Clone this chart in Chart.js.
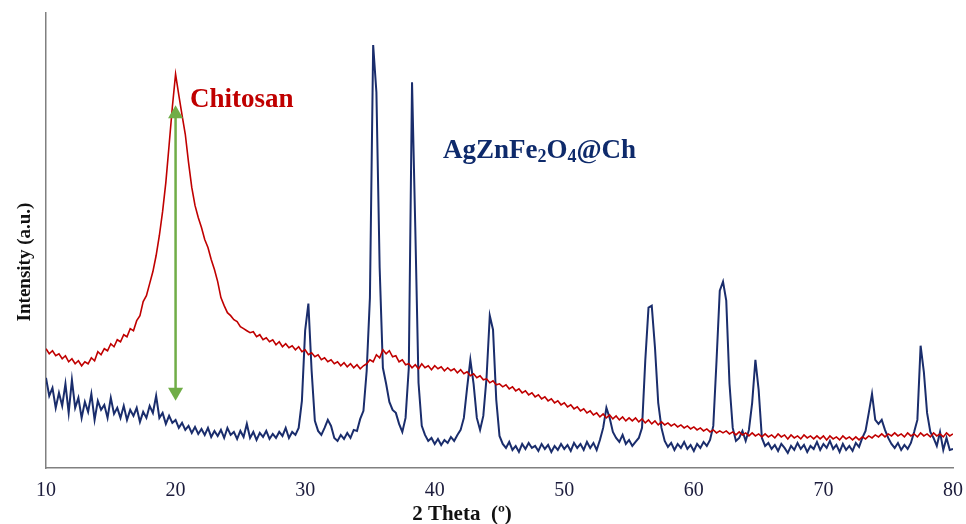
<!DOCTYPE html>
<html>
<head>
<meta charset="utf-8">
<script src="https://cdn.jsdelivr.net/npm/chart.js@4.4.1/dist/chart.umd.min.js"></script>
<style>
html,body{margin:0;padding:0;background:#ffffff;}
canvas{display:block;}
</style>
</head>
<body>
<canvas id="c" width="966" height="524"></canvas>
<script>
// 2θ positions (degrees)
const theta = [
10,10.25,10.5,10.75,11,11.25,11.5,11.75,12,12.25,12.5,12.75,13,13.25,13.5,13.75,14,14.25,14.5,14.75,
15,15.25,15.5,15.75,16,16.25,16.5,16.75,17,17.25,17.5,17.75,18,18.25,18.5,18.75,19,19.25,19.5,19.75,
20,20.25,20.5,20.75,21,21.25,21.5,21.75,22,22.25,22.5,22.75,23,23.25,23.5,23.75,24,24.25,24.5,24.75,
25,25.25,25.5,25.75,26,26.25,26.5,26.75,27,27.25,27.5,27.75,28,28.25,28.5,28.75,29,29.25,29.5,29.75,
30,30.25,30.5,30.75,31,31.25,31.5,31.75,32,32.25,32.5,32.75,33,33.25,33.5,33.75,34,34.25,34.5,34.75,
35,35.25,35.5,35.75,36,36.25,36.5,36.75,37,37.25,37.5,37.75,38,38.25,38.5,38.75,39,39.25,39.5,39.75,
40,40.25,40.5,40.75,41,41.25,41.5,41.75,42,42.25,42.5,42.75,43,43.25,43.5,43.75,44,44.25,44.5,44.75,
45,45.25,45.5,45.75,46,46.25,46.5,46.75,47,47.25,47.5,47.75,48,48.25,48.5,48.75,49,49.25,49.5,49.75,
50,50.25,50.5,50.75,51,51.25,51.5,51.75,52,52.25,52.5,52.75,53,53.25,53.5,53.75,54,54.25,54.5,54.75,
55,55.25,55.5,55.75,56,56.25,56.5,56.75,57,57.25,57.5,57.75,58,58.25,58.5,58.75,59,59.25,59.5,59.75,
60,60.25,60.5,60.75,61,61.25,61.5,61.75,62,62.25,62.5,62.75,63,63.25,63.5,63.75,64,64.25,64.5,64.75,
65,65.25,65.5,65.75,66,66.25,66.5,66.75,67,67.25,67.5,67.75,68,68.25,68.5,68.75,69,69.25,69.5,69.75,
70,70.25,70.5,70.75,71,71.25,71.5,71.75,72,72.25,72.5,72.75,73,73.25,73.5,73.75,74,74.25,74.5,74.75,
75,75.25,75.5,75.75,76,76.25,76.5,76.75,77,77.25,77.5,77.75,78,78.25,78.5,78.75,79,79.25,79.5,79.75,
80
];

// AgZnFe2O4@Ch intensity (a.u.)
const composite = [
90,72,80,60,75,62,84,55,88,60,70,50,66,56,74,48,67,58,63,50,
70,54,60,50,62,48,58,52,60,46,56,50,62,55,72,50,55,44,52,45,
48,40,45,38,42,35,41,34,39,33,40,31,37,32,38,30,40,33,36,29,
37,31,44,30,36,28,35,31,37,29,34,30,36,32,40,30,36,33,40,67,
137,164,97,47,37,33,40,48,42,30,27,33,29,35,30,38,37,49,57,97,
170,422,375,200,100,84,66,58,55,44,36,50,100,385,240,85,42,33,27,30,
24,29,23,28,25,31,27,33,38,50,80,108,84,50,38,52,90,152,138,68,
32,24,20,26,18,22,16,24,19,25,20,22,17,24,19,23,16,22,18,24,
19,23,17,25,20,24,18,26,20,25,18,28,40,60,50,36,30,26,33,24,
28,22,26,30,40,107,160,162,120,65,40,27,21,25,18,24,20,26,19,23,
17,24,20,26,22,28,42,107,177,186,167,84,40,27,30,37,27,38,65,108,
78,30,22,25,19,23,17,24,20,15,22,18,25,19,23,16,22,19,26,18,
24,20,27,19,23,16,24,18,22,17,25,21,30,37,55,74,48,44,48,38,
30,24,20,25,18,23,19,25,36,48,122,96,55,36,30,22,36,18,30,18,
19
];

// Chitosan intensity (a.u.)
const chitosan = [
119,114,117,112,114,109,112,106,109,104,107,102,106,104,110,107,116,113,119,117,
124,121,128,126,133,131,139,137,147,152,166,172,184,196,212,232,256,285,322,360,
393,372,352,333,305,280,262,250,240,228,220,208,198,186,170,162,155,152,148,146,
141,139,137,135,136,131,133,128,130,126,128,123,126,121,124,120,122,118,121,116,
118,113,115,111,113,108,110,106,108,104,106,102,105,101,104,100,103,99,102,104,
108,106,113,110,118,114,117,111,112,106,108,103,104,100,103,99,104,100,102,98,
102,99,101,97,100,97,99,95,98,94,96,92,94,90,92,88,89,85,87,83,
84,81,83,79,81,77,79,75,77,73,75,71,73,69,71,67,69,65,67,63,
65,61,63,59,61,57,59,55,57,53,55,51,54,50,53,49,52,48,51,47,
50,47,50,46,49,45,48,44,47,43,46,43,45,42,44,41,43,40,42,39,
41,38,40,37,39,36,38,35,37,35,37,34,36,33,36,33,35,32,35,32,
34,31,34,31,33,30,34,31,33,29,33,30,32,29,33,30,32,29,32,29,
32,28,32,29,31,28,32,29,31,28,31,28,31,29,32,30,33,31,34,31,
34,32,35,32,34,31,35,32,34,31,35,32,34,31,35,32,34,31,35,32,
34
];

const xTicks = [10,20,30,40,50,60,70,80];

const toPoints = (xs, ys) => xs.map((x, i) => ({x: x, y: ys[i]}));

const serifFont = '"Liberation Serif", "Times New Roman", serif';

const annotations = {
  id: 'annotations',
  afterDatasetsDraw(chart) {
    const ctx = chart.ctx;
    const xs = chart.scales.x, ys = chart.scales.y;
    // green double-headed arrow at 2θ = 20
    const ax = xs.getPixelForValue(20);
    const yTop = ys.getPixelForValue(362);
    const yBot = ys.getPixelForValue(67);
    const head = 13, hw = 7.5;
    ctx.save();
    ctx.strokeStyle = '#70ad47';
    ctx.fillStyle = '#70ad47';
    ctx.lineWidth = 2.5;
    ctx.beginPath();
    ctx.moveTo(ax, yTop + head - 1);
    ctx.lineTo(ax, yBot - head + 1);
    ctx.stroke();
    ctx.beginPath();
    ctx.moveTo(ax, yTop);
    ctx.lineTo(ax - hw, yTop + head);
    ctx.lineTo(ax + hw, yTop + head);
    ctx.closePath();
    ctx.fill();
    ctx.beginPath();
    ctx.moveTo(ax, yBot);
    ctx.lineTo(ax - hw, yBot - head);
    ctx.lineTo(ax + hw, yBot - head);
    ctx.closePath();
    ctx.fill();

    // Chitosan label
    ctx.textBaseline = 'alphabetic';
    ctx.textAlign = 'left';
    ctx.fillStyle = '#c00000';
    ctx.font = 'bold 27px ' + serifFont;
    ctx.fillText('Chitosan', 190, 107);

    // AgZnFe2O4@Ch label with subscripts
    const parts = [['AgZnFe', false], ['2', true], ['O', false], ['4', true], ['@Ch', false]];
    let px = 443;
    const base = 158;
    ctx.fillStyle = '#0e2a6b';
    parts.forEach(([t, sub]) => {
      ctx.font = sub ? 'bold 18px ' + serifFont : 'bold 27px ' + serifFont;
      ctx.fillText(t, px, sub ? base + 4 : base);
      px += ctx.measureText(t).width;
    });

    // axis titles
    ctx.fillStyle = '#111111';
    ctx.font = 'bold 21px ' + serifFont;
    ctx.textAlign = 'center';
    ctx.fillText('2 Theta  (º)', 462, 520);

    ctx.save();
    ctx.translate(30, 262);
    ctx.rotate(-Math.PI / 2);
    ctx.font = 'bold 19px ' + serifFont;
    ctx.textAlign = 'center';
    ctx.textBaseline = 'alphabetic';
    ctx.fillText('Intensity (a.u.)', 0, 0);
    ctx.restore();
    ctx.restore();
  }
};

new Chart(document.getElementById('c'), {
  type: 'line',
  data: {
    datasets: [
      {
        label: 'Chitosan',
        data: toPoints(theta, chitosan),
        borderColor: '#c00000',
        borderWidth: 1.6,
        pointRadius: 0,
        tension: 0,
        fill: false,
        order: 1
      },
      {
        label: 'AgZnFe2O4@Ch',
        data: toPoints(theta, composite),
        borderColor: '#1a2d6c',
        borderWidth: 2,
        pointRadius: 0,
        tension: 0,
        fill: false,
        order: 2
      }
    ]
  },
  options: {
    responsive: false,
    animation: false,
    devicePixelRatio: 1,
    layout: { padding: { left: 46, right: 13, top: 13, bottom: 10 } },
    plugins: { legend: { display: false }, tooltip: { enabled: false } },
    scales: {
      x: {
        type: 'linear',
        min: 10,
        max: 80,
        afterBuildTicks: (s) => { s.ticks = xTicks.map(v => ({ value: v })); },
        afterFit: (s) => { s.paddingLeft = 0; s.paddingRight = 0; },
        grid: { display: false, drawTicks: false },
        border: { display: true, color: '#808080', width: 1.5 },
        ticks: {
          color: '#1c1c3c',
          font: { family: serifFont, size: 20 },
          padding: 11,
          maxRotation: 0
        }
      },
      y: {
        type: 'linear',
        min: 0,
        max: 454,
        grid: { display: false, drawTicks: false },
        border: { display: true, color: '#808080', width: 1.5 },
        ticks: { display: false }
      }
    }
  },
  plugins: [annotations]
});
</script>
</body>
</html>
